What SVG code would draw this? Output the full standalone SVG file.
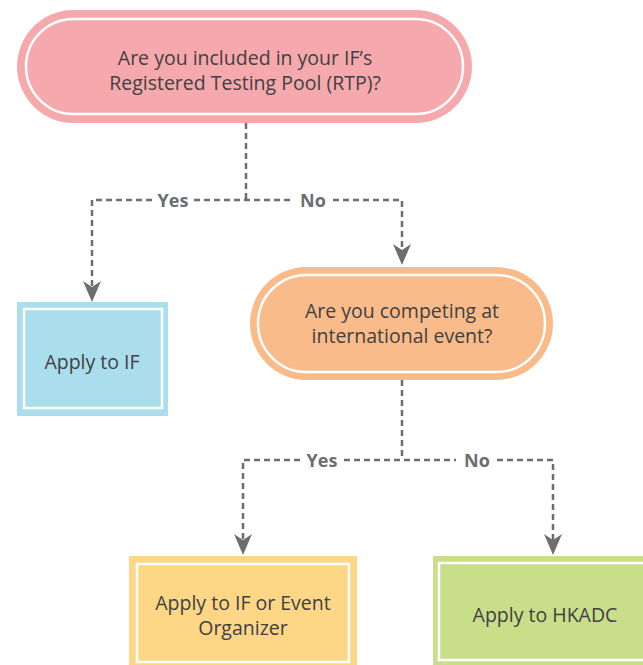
<svg xmlns="http://www.w3.org/2000/svg" width="643" height="665" viewBox="0 0 643 665">
<defs>
<style>
.t{font-family:"Open Sans","Noto Sans","Liberation Sans",sans-serif;font-size:19.5px;fill:#414042;text-anchor:middle}
.lbl{font-family:"Open Sans","Noto Sans","Liberation Sans",sans-serif;font-size:18px;font-weight:bold;fill:#6d6e71;text-anchor:middle}
.in{fill:none;stroke:#fff;stroke-width:2.5}
.c{fill:none;stroke:#6d6e71;stroke-width:2.5;stroke-dasharray:6 4}
</style>
<marker id="ah" viewBox="0 0 21 18" refX="6" refY="9" markerWidth="21" markerHeight="18" markerUnits="userSpaceOnUse" orient="auto">
<path d="M0,0 L21,9 L0,18 L6,9 Z" fill="#6d6e71"/>
</marker>
</defs>
<rect width="643" height="665" fill="#fff"/>
<g id="connectors">
<path class="c" d="M246,123 V200"/>
<path class="c" d="M152,200 H92 V287" marker-end="url(#ah)"/>
<path class="c" d="M194,200 H294"/>
<path class="c" d="M333,200 H402 V250" marker-end="url(#ah)"/>
<path class="c" d="M402,380 V460"/>
<path class="c" d="M300,460 H243 V540" marker-end="url(#ah)"/>
<path class="c" d="M344,460 H456"/>
<path class="c" d="M497,460 H553 V540" marker-end="url(#ah)"/>
<text class="lbl" x="173" y="207">Yes</text>
<text class="lbl" x="313" y="207">No</text>
<text class="lbl" x="322" y="467">Yes</text>
<text class="lbl" x="477" y="467">No</text>
</g>
<g id="q1">
<rect x="17" y="10" width="455" height="113" rx="56.5" fill="#f5a9ac"/>
<rect class="in" x="26" y="19" width="437" height="95" rx="47.5"/>
<text class="t" x="245" y="65">Are you included in your IF’s</text>
<text class="t" x="245" y="90">Registered Testing Pool (RTP)?</text>
</g>
<g id="applyIF">
<rect x="17" y="302" width="151" height="114" fill="#abdeec"/>
<rect class="in" x="24" y="309" width="138" height="99"/>
<text class="t" x="92" y="369">Apply to IF</text>
</g>
<g id="q2">
<rect x="250" y="267" width="303" height="113" rx="56.5" fill="#f9bb8a"/>
<rect class="in" x="258" y="275" width="287" height="97" rx="48.5"/>
<text class="t" x="402" y="318">Are you competing at</text>
<text class="t" x="402" y="343">international event?</text>
</g>
<g id="applyEvent">
<rect x="129" y="556" width="228" height="115" fill="#fdd686"/>
<rect class="in" x="137" y="564" width="212" height="98"/>
<text class="t" x="243" y="610">Apply to IF or Event</text>
<text class="t" x="243" y="635">Organizer</text>
</g>
<g id="applyHKADC">
<rect x="433" y="556" width="220" height="115" fill="#c9de89"/>
<rect class="in" x="439" y="563" width="220" height="97"/>
<text class="t" x="545" y="622">Apply to HKADC</text>
</g>
</svg>
